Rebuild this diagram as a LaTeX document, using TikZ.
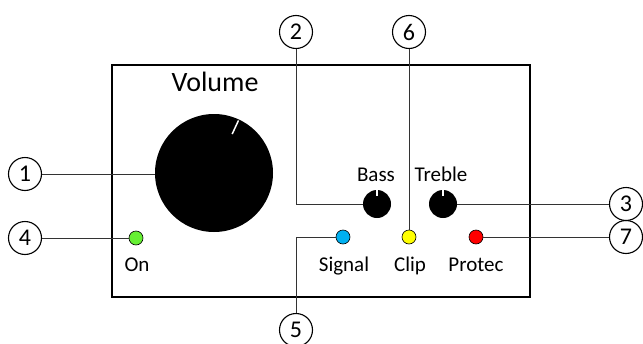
\documentclass[tikz,border=0pt]{standalone}
\usepackage{fontspec}
\setmainfont{Carlito}
\usepackage{tikz}
\usepackage{xcolor}
\usetikzlibrary{calc}
\usetikzlibrary{positioning}

\definecolor{ledgreen}{RGB}{102,240,51}
\definecolor{ledblue}{RGB}{0,176,240}
\definecolor{ledyellow}{RGB}{255,255,0}
\definecolor{ledred}{RGB}{255,0,0}

\tikzset{
  callout/.style={circle, draw=black, line width=1.1pt, minimum size=33pt, inner sep=0pt,
    font=\fontsize{24}{26}\selectfont},
  led/.style={circle, draw=black, line width=0.6pt, minimum size=14pt, inner sep=0pt},
  knob/.style={circle, fill=black, inner sep=0pt},
  lbl/.style={anchor=base, inner sep=0pt, font=\fontsize{21}{24}\selectfont},
  leader/.style={draw=black!80, line width=0.8pt}
}

\begin{document}
\begin{tikzpicture}[x=1pt,y=-1pt]
\useasboundingbox (0,0) rectangle (643,343);

% front panel
\draw[line width=1.4pt] (112,65) rectangle (530,297);

% knobs
\node[knob, minimum size=118pt] (vol) at (214,173) {};
\draw[white, line width=1.5pt] ($(vol.center)+(65:43pt)$) -- ($(vol.center)+(65:58pt)$);
\node[knob, minimum size=28pt] (bass) at (377,204) {};
\draw[white, line width=1.2pt] (bass.north) -- ++(0,6);
\node[knob, minimum size=28pt] (treble) at (443,204) {};
\draw[white, line width=1.2pt] (treble.north) -- ++(0,6);

% leds
\node[led, fill=ledgreen] (on) at (136,238) {};
\node[led, fill=ledblue] (signal) at (343,237) {};
\node[led, fill=ledyellow] (clip) at (409,237) {};
\node[led, fill=ledred] (protec) at (476,237) {};

% labels
\node[lbl, font=\fontsize{28}{30}\selectfont] (volumetxt) at (215,91) {Volume};
\node[lbl] (basstxt) at (376,181) {Bass};
\node[lbl] (trebletxt) at (441,181) {Treble};
\node[lbl] (ontxt) at (137,271) {On};
\node[lbl] (signaltxt) at (344,271) {Signal};
\node[lbl] (cliptxt) at (410,271) {Clip};
\node[lbl] (protectxt) at (476,271) {Protec};

% numbered callouts
\node[callout] (c1) at (25,174) {1};
\node[callout] (c2) at (296,32) {2};
\node[callout] (c3) at (626,204) {3};
\node[callout] (c4) at (25,238) {4};
\node[callout] (c5) at (296,330) {5};
\node[callout] (c6) at (409,32) {6};
\node[callout] (c7) at (626,237) {7};

% leader lines
\draw[leader] (c1.east) -- (c1.east -| vol.west);
\draw[leader] (c2.south) |- (bass.west);
\draw[leader] (treble.east) -- (c3.west);
\draw[leader] (c4.east) -- (on.west);
\draw[leader] (signal.west) -| (c5.north);
\draw[leader] (c6.south) -- (clip.north);
\draw[leader] (protec.east) -- (c7.west);

\end{tikzpicture}
\end{document}
